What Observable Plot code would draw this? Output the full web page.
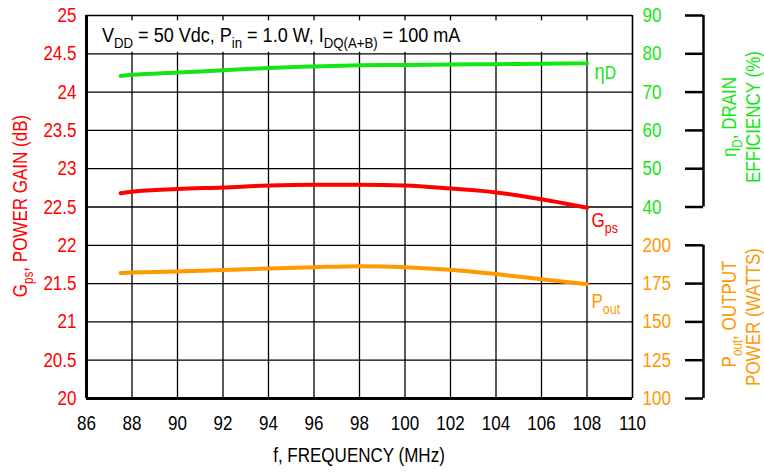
<!DOCTYPE html>
<html>
<head>
<meta charset="utf-8">
<script src="https://cdn.jsdelivr.net/npm/d3@7"></script>
<script src="https://cdn.jsdelivr.net/npm/@observablehq/plot@0.6"></script>
<style>
  html, body { margin: 0; padding: 0; background: white; }
  #chart svg { display: block; }
</style>
</head>
<body>
<div id="chart"></div>
<script>
// ---- data ----
const freq = [87.5, 88, 90, 92, 94, 96, 98, 100, 102, 104, 106, 108];
const gps  = [22.68, 22.70, 22.735, 22.755, 22.78, 22.79, 22.79, 22.78, 22.74, 22.69, 22.60, 22.49];
const eta  = [74.2, 74.5, 75.1, 75.7, 76.3, 76.7, 77.0, 77.1, 77.2, 77.3, 77.4, 77.5];
const pout = [182.0, 182.2, 182.9, 183.8, 184.8, 185.7, 186.4, 185.7, 184.0, 181.2, 177.9, 174.6];

const xTicks    = [86, 88, 90, 92, 94, 96, 98, 100, 102, 104, 106, 108, 110];
const gpsTicks  = [20, 20.5, 21, 21.5, 22, 22.5, 23, 23.5, 24, 24.5, 25];
const etaTicks  = [40, 50, 60, 70, 80, 90];
const poutTicks = [100, 125, 150, 175, 200];

// secondary axes mapped onto the gain (left) scale
const etaToG  = e => 22.5 + (e - 40) / 20;
const gToEta  = g => Math.round(40 + (g - 22.5) * 20);
const poutToG = p => 20 + (p - 100) / 50;
const gToPout = g => Math.round(100 + (g - 20) * 50);

const RED = "#ff0000", GREEN = "#14e614", ORANGE = "#ff9900";
const FONT = "'Liberation Sans', Arial, Helvetica, sans-serif";
const FS = 20.5;      // font size
const SX = 0.83;      // horizontal compression (narrow face)

const rows = freq.map((f, i) => ({f, gps: gps[i], eta: eta[i], pout: pout[i]}));

const plot = Plot.plot({
  width: 764, height: 472,
  marginLeft: 86, marginRight: 132, marginTop: 15, marginBottom: 74,
  x: {domain: [86, 110]},
  y: {domain: [20, 25]},
  style: {fontFamily: FONT, fontSize: FS + "px", background: "white", overflow: "visible"},
  marks: [
    Plot.gridX(xTicks.slice(1, -1), {stroke: "#000", strokeOpacity: 1, strokeWidth: 1.3}),
    Plot.gridY(gpsTicks.slice(1, -1), {stroke: "#000", strokeOpacity: 1, strokeWidth: 1.3}),
    // title box background
    Plot.rect([0], {x1: 86, x2: 110, y1: 24.52, y2: 24.93, fill: "white", insetLeft: 2, insetRight: 1}),
    // frame
    Plot.ruleY([25], {stroke: "#000", strokeWidth: 1.6}),
    Plot.ruleX([110], {stroke: "#000", strokeWidth: 1.6}),
    Plot.ruleX([86], {stroke: "#000", strokeWidth: 3}),
    Plot.ruleY([20], {stroke: "#000", strokeWidth: 3}),
    // axes
    Plot.axisX(xTicks, {tickSize: 0, tickPadding: 17, fontSize: FS, fill: "#000", label: null}),
    Plot.axisY(gpsTicks, {anchor: "left", tickSize: 0, tickPadding: 10, tickFormat: d => String(d), fontSize: FS, fill: RED, label: null}),
    Plot.axisY(etaTicks.map(etaToG), {anchor: "right", tickSize: 0, tickPadding: 10, tickFormat: gToEta, fontSize: FS, fill: GREEN, label: null}),
    Plot.axisY(poutTicks.map(poutToG), {anchor: "right", tickSize: 0, tickPadding: 10, tickFormat: gToPout, fontSize: FS, fill: ORANGE, label: null}),
    // brackets on the right
    Plot.axisY(etaTicks.map(etaToG), {anchor: "left", tickSize: 18, tickFormat: () => "", dx: 617, stroke: "#000", strokeWidth: 2.5, label: null}),
    Plot.axisY(poutTicks.map(poutToG), {anchor: "left", tickSize: 18, tickFormat: () => "", dx: 617, stroke: "#000", strokeWidth: 2.5, label: null}),
    Plot.ruleX([110], {y1: etaToG(40), y2: etaToG(90), dx: 71, stroke: "#000", strokeWidth: 2.5}),
    Plot.ruleX([110], {y1: poutToG(100), y2: poutToG(200), dx: 71, stroke: "#000", strokeWidth: 2.5}),
    // series
    Plot.line(rows, {x: "f", y: d => etaToG(d.eta), stroke: GREEN, strokeWidth: 4, curve: "monotone-x"}),
    Plot.line(rows, {x: "f", y: "gps", stroke: RED, strokeWidth: 4, curve: "monotone-x"}),
    Plot.line(rows, {x: "f", y: d => poutToG(d.pout), stroke: ORANGE, strokeWidth: 4, curve: "monotone-x"})
  ]
});

document.getElementById("chart").appendChild(plot);

const svg = d3.select(plot);

// compress Plot's axis texts horizontally (the reference uses a narrow face)
svg.selectAll("text").each(function() {
  const el = d3.select(this);
  const tr = el.attr("transform");
  if (tr) el.attr("transform", tr + ` scale(${SX},1)`);
});

// ---- rich text (subscripts) ----
const xs = plot.scale("x"), ys = plot.scale("y");

function rich(x, y, parts, {fill = "#000", size = FS, sub = 14, shift = 6, anchor = "start", rotate = 0, sx = SX} = {}) {
  const t = svg.append("text")
    .attr("font-family", FONT)
    .attr("font-size", size)
    .attr("fill", fill)
    .attr("text-anchor", anchor)
    .attr("transform", `translate(${x},${y}) rotate(${rotate}) scale(${sx},1)`);
  let down = false;
  for (const [s, isSub] of parts) {
    const ts = t.append("tspan").text(s);
    if (isSub) { ts.attr("font-size", sub); if (!down) { ts.attr("dy", shift); down = true; } }
    else if (down) { ts.attr("dy", -shift); down = false; }
  }
  return t;
}

// title inside the plot
rich(xs.apply(86) + 16, 42, [["V"], ["DD", 1], [" = 50 Vdc, P"], ["in", 1], [" = 1.0 W, I"], ["DQ(A+B)", 1], [" = 100 mA"]], {sx: 0.88, sub: 15});

// series labels
const xEnd = xs.apply(freq[freq.length - 1]);
rich(xEnd + 8, ys.apply(etaToG(eta[eta.length - 1])) + 16, [["η"], ["D", 1]], {fill: GREEN, size: 22, sub: 19, shift: 0});
rich(xEnd + 5, ys.apply(gps[gps.length - 1]) + 20, [["G"], ["ps", 1]], {fill: RED, sub: 15});
rich(xEnd + 5, ys.apply(poutToG(pout[pout.length - 1])) + 24, [["P"], ["out", 1]], {fill: ORANGE, sub: 15});

// x axis title
rich((xs.apply(86) + xs.apply(110)) / 2, 462, [["f, FREQUENCY (MHz)"]], {anchor: "middle"});

// left axis title
rich(27, 206, [["G"], ["ps", 1], [", POWER GAIN (dB)"]], {fill: RED, anchor: "middle", rotate: -90});

// right axis titles
rich(736, 117, [["η"], ["D", 1], [", DRAIN"]], {fill: GREEN, anchor: "middle", rotate: -90});
rich(760, 117, [["EFFICIENCY (%)"]], {fill: GREEN, anchor: "middle", rotate: -90});
rich(736, 314, [["P"], ["out", 1], [", OUTPUT"]], {fill: ORANGE, anchor: "middle", rotate: -90});
rich(760, 317, [["POWER (WATTS)"]], {fill: ORANGE, anchor: "middle", rotate: -90});
</script>
</body>
</html>
